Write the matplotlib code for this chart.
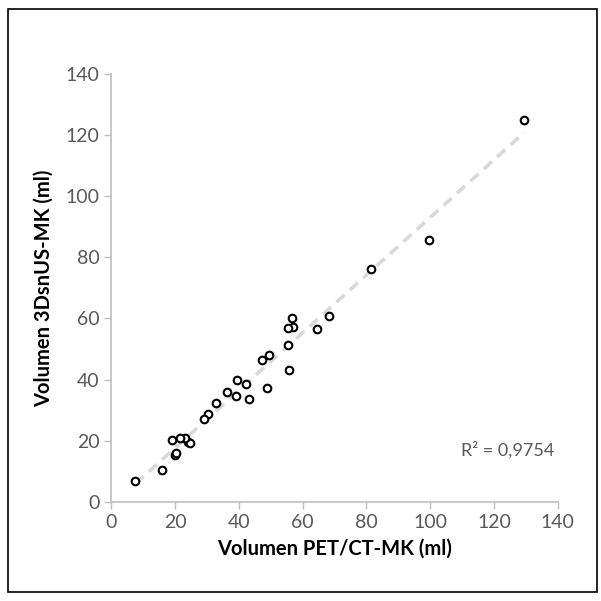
import matplotlib
matplotlib.use("Agg")
import matplotlib.pyplot as plt
import numpy as np
from matplotlib.patches import Rectangle

# PET/CT volume (x) vs 3DsnUS volume (y), ml
pet_ct = [129.5, 99.6, 81.4, 68.3, 64.6, 56.8, 57.1, 55.3, 55.5, 55.9,
          49.5, 47.3, 49.0, 42.4, 43.3, 39.6, 39.1, 36.4, 32.8, 30.3,
          29.1, 24.1, 24.6, 23.1, 21.6, 19.0, 20.1, 20.4, 15.8, 7.6]
us_3d = [124.8, 85.8, 76.3, 60.8, 56.6, 60.3, 57.1, 56.8, 51.2, 43.2,
         48.1, 46.4, 37.2, 38.7, 33.7, 39.8, 34.6, 35.8, 32.3, 28.7,
         27.1, 19.6, 19.3, 21.0, 21.0, 20.3, 15.3, 16.0, 10.4, 6.9]
r2_label = "R² = 0,9754"
ticks = [0, 20, 40, 60, 80, 100, 120, 140]

plt.rcParams["font.family"] = ["Lato", "DejaVu Sans"]

fig = plt.figure(figsize=(6.01, 6.01), dpi=100)
ax = fig.add_axes([0.185, 0.165, 0.743, 0.712])

# linear trend line over the data range
k, b = np.polyfit(pet_ct, us_3d, 1)
xs = np.array([min(pet_ct), max(pet_ct)])
ax.plot(xs, k * xs + b, color="#d9d9d9", lw=2.6, ls=(0, (3, 2)), zorder=1)

ax.scatter(pet_ct, us_3d, s=30, facecolors="white", edgecolors="black",
           linewidths=1.5, zorder=3)

ax.set_xlim(0, 140)
ax.set_ylim(0, 140)
ax.set_xticks(ticks)
ax.set_yticks(ticks)
ax.tick_params(colors="#bfbfbf", labelcolor="#595959", labelsize=14,
               length=5, width=1, direction="out")
for s in ("top", "right"):
    ax.spines[s].set_visible(False)
for s in ("left", "bottom"):
    ax.spines[s].set_color("#bfbfbf")
    ax.spines[s].set_linewidth(1.2)

ax.set_xlabel("Volumen PET/CT-MK (ml)", fontsize=14.5, fontweight="bold",
              color="black", labelpad=6)
ax.set_ylabel("Volumen 3DsnUS-MK (ml)", fontsize=14.5, fontweight="bold",
              color="black", labelpad=8)

ax.text(139, 17, r2_label, ha="right", va="center", fontsize=13,
        color="#595959")

fig.patches.append(Rectangle((0.014, 0.015), 0.98, 0.97, transform=fig.transFigure,
                             fill=False, edgecolor="black", lw=1.2))

fig.savefig("out.png", dpi=100)
